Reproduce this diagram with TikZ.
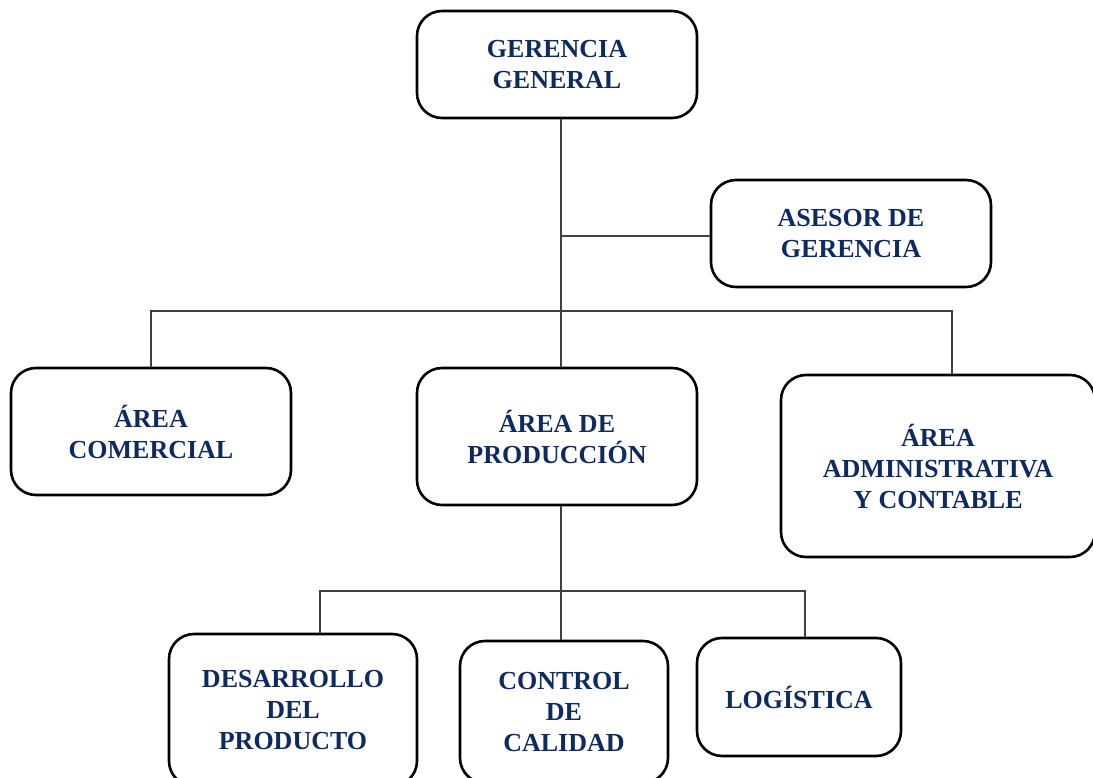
\documentclass[tikz,border=0pt]{standalone}
\usepackage{fontspec}
\setmainfont{Liberation Serif}
\usetikzlibrary{positioning}
\definecolor{azul}{HTML}{0F2A60}

\begin{document}
\begin{tikzpicture}[x=1pt,y=-1pt,
  unidad/.style={draw,line width=2.6pt,rounded corners=25pt,fill=white,align=center,inner sep=0pt,
    font=\fontsize{26}{31}\selectfont\bfseries,text=azul},
  linea/.style={line width=1.3pt,draw=black!75}]
\useasboundingbox (0,0) rectangle (1093,778);
% boxes
\node[unidad,minimum width=280pt,minimum height=107pt] (gg) at (557,64.5) {GERENCIA\\GENERAL};
\node[unidad,minimum width=280pt,minimum height=107pt] (asesor) at (851,233.5) {ASESOR DE\\GERENCIA};
\node[unidad,minimum width=280pt,minimum height=127pt] (com) at (151,431.5) {ÁREA\\COMERCIAL};
\node[unidad,minimum width=280pt,minimum height=137pt] (prod) at (557,436.5) {ÁREA DE\\PRODUCCIÓN};
\node[unidad,minimum width=314pt,minimum height=182pt] (adm) at (938,466) {ÁREA\\ADMINISTRATIVA\\Y CONTABLE};
\node[unidad,minimum width=248pt,minimum height=152pt] (des) at (293,710) {DESARROLLO\\DEL\\PRODUCTO};
\node[unidad,minimum width=208pt,minimum height=142pt] (ctrl) at (564,712) {CONTROL\\DE\\CALIDAD};
\node[unidad,minimum width=204pt,minimum height=118pt] (log) at (799,697) {LOGÍSTICA};
% junctions
\coordinate (jAs) at (561,236);
\coordinate (jIzq) at (151,311);
\coordinate (jDer) at (952,311);
\coordinate (jB) at (561,591);
\coordinate (jBIzq) at (320,591);
\coordinate (jBDer) at (805,591);
% connectors
\draw[linea] (gg.south -| jAs) -- (prod.north -| jAs);
\draw[linea] (jAs) -- (asesor.west |- jAs);
\draw[linea] (com.north -| jIzq) -- (jIzq) -- (jDer) -- (adm.north -| jDer);
\draw[linea] (prod.south -| jB) -- (ctrl.north -| jB);
\draw[linea] (des.north -| jBIzq) -- (jBIzq) -- (jBDer) -- (log.north -| jBDer);
\end{tikzpicture}
\end{document}
